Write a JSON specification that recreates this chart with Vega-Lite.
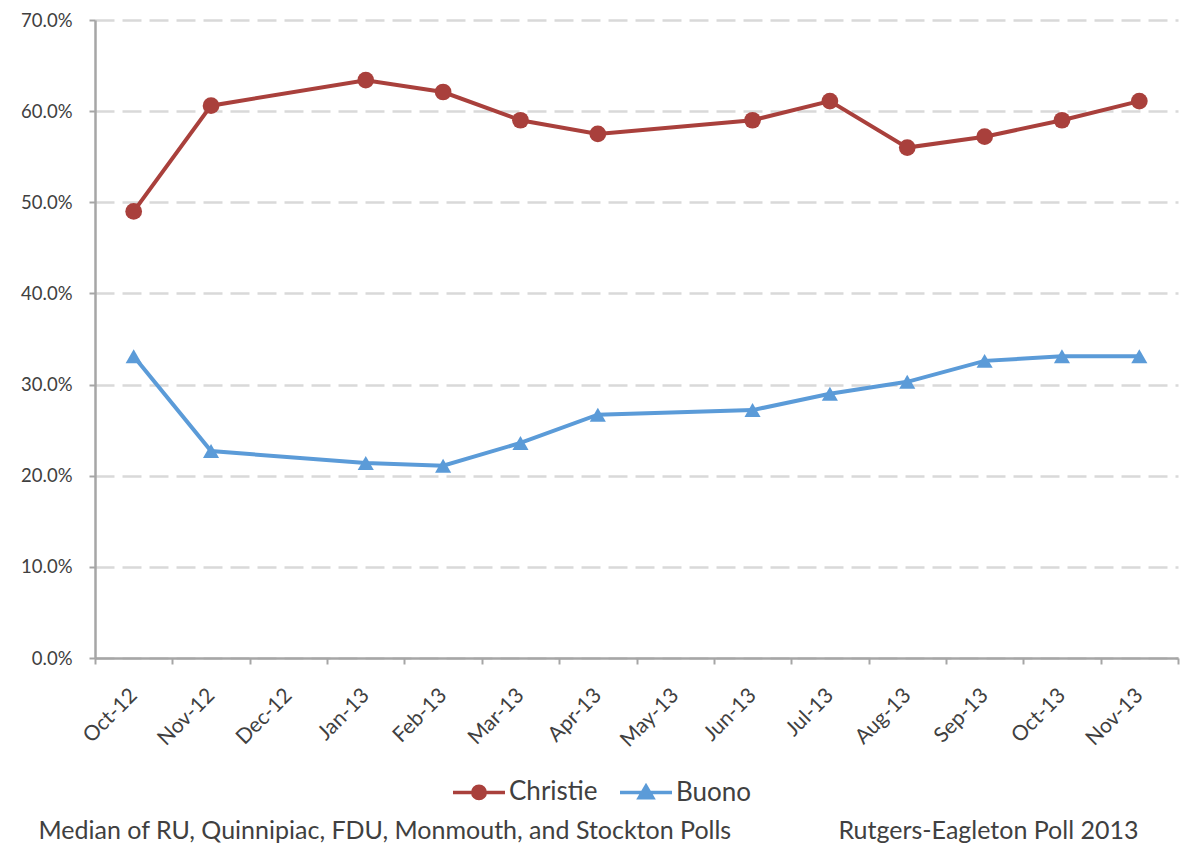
{
  "$schema": "https://vega.github.io/schema/vega-lite/v6.json",
  "width": 1083,
  "height": 638,
  "autosize": {"type": "none"},
  "padding": {"left": 95, "top": 20, "right": 2, "bottom": 187},
  "background": "white",
  "config": {"view": {"stroke": null}, "font": "Lato"},
  "data": {
    "values": [
      {"i": 0, "month": "Oct-12", "candidate": "Christie", "value": 0.490},
      {"i": 1, "month": "Nov-12", "candidate": "Christie", "value": 0.606},
      {"i": 3, "month": "Jan-13", "candidate": "Christie", "value": 0.634},
      {"i": 4, "month": "Feb-13", "candidate": "Christie", "value": 0.621},
      {"i": 5, "month": "Mar-13", "candidate": "Christie", "value": 0.590},
      {"i": 6, "month": "Apr-13", "candidate": "Christie", "value": 0.575},
      {"i": 8, "month": "Jun-13", "candidate": "Christie", "value": 0.590},
      {"i": 9, "month": "Jul-13", "candidate": "Christie", "value": 0.611},
      {"i": 10, "month": "Aug-13", "candidate": "Christie", "value": 0.560},
      {"i": 11, "month": "Sep-13", "candidate": "Christie", "value": 0.572},
      {"i": 12, "month": "Oct-13", "candidate": "Christie", "value": 0.590},
      {"i": 13, "month": "Nov-13", "candidate": "Christie", "value": 0.611},
      {"i": 0, "month": "Oct-12", "candidate": "Buono", "value": 0.331},
      {"i": 1, "month": "Nov-12", "candidate": "Buono", "value": 0.227},
      {"i": 3, "month": "Jan-13", "candidate": "Buono", "value": 0.214},
      {"i": 4, "month": "Feb-13", "candidate": "Buono", "value": 0.211},
      {"i": 5, "month": "Mar-13", "candidate": "Buono", "value": 0.236},
      {"i": 6, "month": "Apr-13", "candidate": "Buono", "value": 0.267},
      {"i": 8, "month": "Jun-13", "candidate": "Buono", "value": 0.272},
      {"i": 9, "month": "Jul-13", "candidate": "Buono", "value": 0.290},
      {"i": 10, "month": "Aug-13", "candidate": "Buono", "value": 0.303},
      {"i": 11, "month": "Sep-13", "candidate": "Buono", "value": 0.326},
      {"i": 12, "month": "Oct-13", "candidate": "Buono", "value": 0.331},
      {"i": 13, "month": "Nov-13", "candidate": "Buono", "value": 0.331}
    ]
  },
  "encoding": {
    "x": {
      "field": "month",
      "type": "ordinal",
      "scale": {
        "type": "band",
        "domain": ["Oct-12", "Nov-12", "Dec-12", "Jan-13", "Feb-13", "Mar-13", "Apr-13", "May-13", "Jun-13", "Jul-13", "Aug-13", "Sep-13", "Oct-13", "Nov-13"],
        "paddingInner": 0,
        "paddingOuter": 0
      },
      "axis": {
        "labelAngle": -45,
        "labelAlign": "right",
        "labelBaseline": "middle",
        "tickBand": "extent",
        "domainColor": "#a6a6a6",
        "domainWidth": 2.5,
        "tickColor": "#a6a6a6",
        "tickWidth": 2,
        "tickSize": 6,
        "labelPadding": 28,
        "labelFontSize": 21,
        "labelColor": "#404040",
        "labelFont": "Lato",
        "grid": false,
        "title": "Rutgers-Eagleton Poll 2013",
        "titleX": 1043,
        "titleY": 172,
        "titleAlign": "right",
        "titleAnchor": null,
        "titleBaseline": "middle",
        "titleFont": "Lato",
        "titleFontSize": 25,
        "titleFontWeight": "normal",
        "titleColor": "#404040"
      }
    },
    "y": {
      "field": "value",
      "type": "quantitative",
      "scale": {"domain": [0, 0.7], "nice": false},
      "axis": {
        "values": [0, 0.1, 0.2, 0.3, 0.4, 0.5, 0.6, 0.7],
        "format": ".1%",
        "grid": true,
        "gridDash": [19, 8],
        "gridColor": "#d9d9d9",
        "gridWidth": 2.5,
        "domainColor": "#a6a6a6",
        "domainWidth": 2.5,
        "tickColor": "#a6a6a6",
        "tickWidth": 2,
        "tickSize": 6,
        "labelPadding": 17,
        "labelFontSize": 18.5,
        "labelColor": "#404040",
        "labelFont": "Lato",
        "title": "Median of RU, Quinnipiac, FDU, Monmouth, and Stockton Polls",
        "titleAngle": 0,
        "titleX": -57,
        "titleY": 810,
        "titleAlign": "left",
        "titleAnchor": null,
        "titleBaseline": "middle",
        "titleFont": "Lato",
        "titleFontSize": 25,
        "titleFontWeight": "normal",
        "titleColor": "#404040"
      }
    },
    "color": {
      "field": "candidate",
      "type": "nominal",
      "scale": {"domain": ["Christie", "Buono"], "range": ["#a9403c", "#5b9bd8"]},
      "legend": {
        "orient": "none",
        "legendX": 356,
        "legendY": 744,
        "direction": "horizontal",
        "title": null,
        "symbolSize": 2704,
        "labelFontSize": 26,
        "labelColor": "#404040",
        "labelFont": "Lato",
        "labelOffset": 2,
        "columnPadding": 15,
        "symbolStrokeWidth": 3,
        "encode": {
          "symbols": {
            "update": {
              "shape": {"signal": "datum.value === 'Christie' ? 'M-1,0L1,0M0.24,0A0.24,0.24,0,1,1,-0.24,0A0.24,0.24,0,1,1,0.24,0Z' : 'M-1,0L1,0M0,-0.24L0.26,0.2L-0.26,0.2Z'"},
              "fill": {"signal": "datum.value === 'Christie' ? '#a9403c' : '#5b9bd8'"},
              "stroke": {"signal": "datum.value === 'Christie' ? '#a9403c' : '#5b9bd8'"},
              "strokeWidth": {"value": 3.5},
              "opacity": {"value": 1}
            }
          }
        }
      }
    },
    "order": {"field": "i", "type": "quantitative"}
  },
  "layer": [
    {"mark": {"type": "line", "strokeWidth": 4}},
    {
      "transform": [{"filter": "datum.candidate === 'Christie'"}],
      "mark": {"type": "point", "filled": true, "opacity": 1, "size": 280, "shape": "circle"}
    },
    {
      "transform": [{"filter": "datum.candidate === 'Buono'"}],
      "mark": {"type": "point", "filled": true, "opacity": 1, "size": 260, "shape": "triangle-up"}
    }
  ]
}
